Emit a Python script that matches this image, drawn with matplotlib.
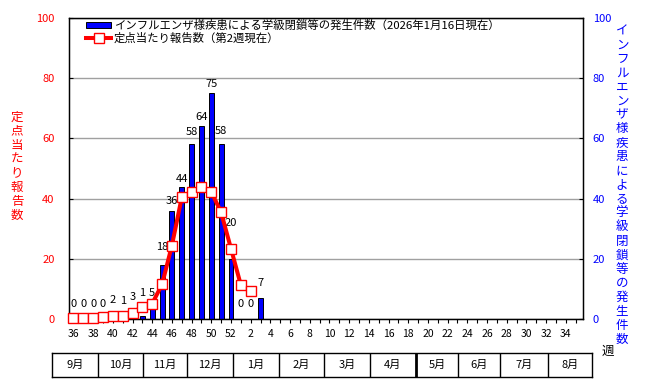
import numpy as np
import matplotlib
matplotlib.use('Agg')
import matplotlib.pyplot as plt
from matplotlib.patches import Patch
from matplotlib.lines import Line2D

plt.rcParams['font.family'] = ['Noto Sans CJK JP', 'DejaVu Sans']

# week axis: 36..52 then 1..35
weeks = list(range(36, 53)) + list(range(1, 36))
# school closures (right axis), weeks 36..3
closures = [0, 0, 0, 0, 2, 1, 3, 1, 5, 18, 36, 44, 58, 64, 75, 58, 20, 0, 0, 7]
# reports per sentinel (left axis), weeks 36..2
rate = [0.3, 0.3, 0.3, 0.8, 1.0, 1.0, 2.1, 4.1, 5.1, 11.5, 24.4, 40.4, 42.3,
        44.0, 42.3, 35.4, 23.4, 11.3, 9.3]
months = ['9月', '10月', '11月', '12月', '1月', '2月', '3月', '4月',
          '5月', '6月', '7月', '8月']

label_bar = 'インフルエンザ様疾患による学級閉鎖等の発生件数（2026年1月16日現在）'
label_line = '定点当たり報告数（第2週現在）'
ylabel_left = '定点当たり報告数'
ylabel_right = 'インフルエンザ様疾患による学級閉鎖等の発生件数'

# layout only
label_dy = [15, 15, 15, 15, 13, 15, 13, 23, 11, 18, 10, 8, 12, 9, 9, 13, 36, 15, 15, 15]
month_edges = [52, 98, 143, 187, 233, 279, 324, 370, 416, 458, 500, 548, 592]

W, H = 647, 382
fig = plt.figure(figsize=(W / 100, H / 100), dpi=100)
ax = fig.add_axes([68.5 / W, 1 - 319 / H, (583 - 68.5) / W, 301 / H])
ax2 = ax.twinx()
ax.set_zorder(ax2.get_zorder() + 1)
ax.patch.set_visible(False)

x = np.arange(len(weeks))
ax2.bar(x[:len(closures)], closures, width=0.5, color='#0000FF',
        edgecolor='black', linewidth=0.7, zorder=3)
for i, v in enumerate(closures):
    ax2.annotate(str(v), (i, v), xytext=(0, label_dy[i]), textcoords='offset pixels',
                 ha='center', va='center', fontsize=8, zorder=5)

ax.plot(x[:len(rate)], rate, color='red', lw=2.9, marker='s', ms=6.5,
        mfc='white', mec='red', mew=1.0, zorder=4, clip_on=False)

for a in (ax, ax2):
    a.set_ylim(0, 100)
    a.set_yticks(np.arange(0, 101, 20))
    a.set_xlim(-0.5, 51.75)
ax2.yaxis.grid(True, color='#A0A0A0', lw=1.0)
ax2.set_axisbelow(True)

ax.tick_params(axis='y', direction='in', length=3, pad=10, labelcolor='red', labelsize=8)
ax2.tick_params(axis='y', direction='in', length=3, pad=7, labelcolor='#0000FF', labelsize=8)
ax.set_xticks(x)
ax.set_xticklabels([str(w) if k % 2 == 0 else '' for k, w in enumerate(weeks)])
ax.tick_params(axis='x', direction='out', length=3, pad=4, labelsize=7.5)
ax2.tick_params(axis='x', length=0)
for s in ax.spines.values():
    s.set_linewidth(1.0)

fig.text(17 / W, 1 - 166 / H, '\n'.join(ylabel_left), color='red', fontsize=9,
         ha='center', va='center', linespacing=1.1)
fig.text(622 / W, 1 - 185 / H, '\n'.join(ylabel_right), color='#0000FF', fontsize=9,
         ha='center', va='center', linespacing=1.1)
fig.text(608 / W, 1 - 351 / H, '週', fontsize=9, ha='center', va='center')

handles = [Patch(facecolor='#0000FF', edgecolor='black', linewidth=0.7),
           Line2D([], [], color='red', lw=2.9, marker='s', ms=6.5, mfc='white',
                  mec='red', mew=1.0)]
fig.legend(handles, [label_bar, label_line], loc='upper left',
           bbox_to_anchor=(86 / W, 1 - 20 / H), frameon=False, fontsize=8.2,
           borderpad=0, borderaxespad=0, handlelength=2.2, handleheight=0.5,
           handletextpad=0.25, labelspacing=0.15)

# month table under the axis
tb = fig.add_axes([52 / W, 1 - 377 / H, 540 / W, 24 / H])
tb.set_xlim(52, 592)
tb.set_ylim(0, 1)
tb.set_xticks([])
tb.set_yticks([])
for s in tb.spines.values():
    s.set_linewidth(1.0)
for k, e in enumerate(month_edges[1:-1]):
    tb.axvline(e, color='black', lw=2.0 if e == 416 else 1.0)
for k, m in enumerate(months):
    tb.text((month_edges[k] + month_edges[k + 1]) / 2, 0.5, m, fontsize=8,
            ha='center', va='center')

fig.savefig('out.png', dpi=100)
